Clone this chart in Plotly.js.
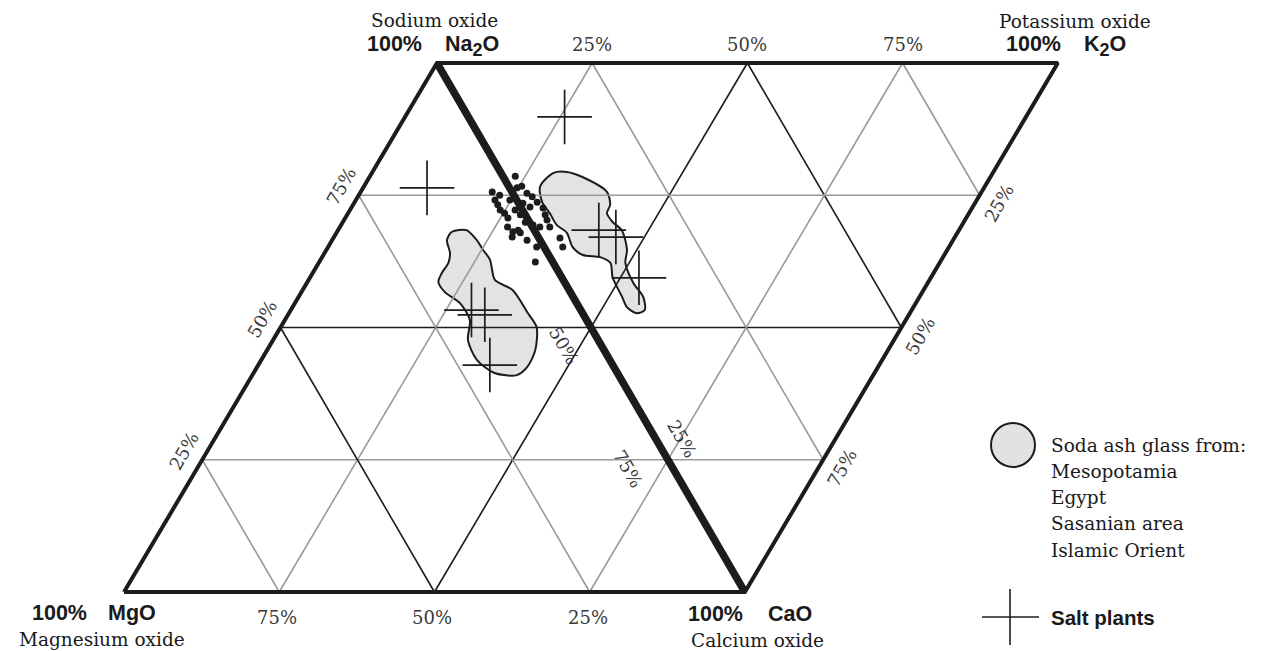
<!DOCTYPE html>
<html>
<head>
<meta charset="utf-8">
<script src="https://cdn.plot.ly/plotly-3.0.1.min.js"></script>
<style>html,body{margin:0;padding:0;background:#fff;}#chart{width:1271px;height:651px;}</style>
</head>
<body>
<div id="chart"></div>
<script>
// ---- Data (diagram coordinates: pos = % along base/top edge, na = % height toward Na2O/K2O edge) ----
const TICKS = [25, 50, 75];

// Salt plants (crosses)
const saltPos = [25.7, 10.3, 42.0, 45.4, 53.0, 29.1, 31.7, 37.3];
const saltNa  = [89.8, 76.4, 68.4, 67.1, 59.4, 53.3, 52.4, 42.9];

// Black dots (glass analyses near the Na2O-CaO join)
const dotPos = [23.4, 21.2, 25.4, 22.4, 23.3, 26.9, 28.1, 29.4, 25.2, 26.2, 24.2, 26.6, 27.9, 30.9, 31.9, 32.7,
                27.0, 28.3, 28.7, 29.6, 31.4, 29.0, 33.6, 36.5, 37.8, 34.8, 30.9, 32.2, 27.2, 28.7, 33.8, 22.7, 24.8, 29.4, 24.8];
const dotNa  = [78.6, 75.6, 76.7, 74.1, 73.2, 75.4, 74.7, 73.7, 71.6, 70.7, 72.2, 72.2, 71.3, 72.6, 71.3, 70.3,
                69.0, 68.1, 67.1, 67.9, 66.5, 68.4, 65.2, 66.9, 65.2, 62.4, 69.4, 69.0, 73.5, 72.8, 69.0, 75.0, 74.1, 69.9, 76.4];

// Soda ash glass fields (outlines)
const fieldRightPos = [28.4, 29.2, 31.3, 34.4, 39.7, 41.4, 41.7, 43.5, 45.7, 48.4, 49.4, 52.6, 55.5, 57.0, 56.0, 53.8, 52.1, 48.7, 47.0, 44.8, 41.8, 39.4, 37.1, 34.7, 32.5, 30.2];
const fieldRightNa  = [76.6, 79.2, 79.4, 78.4, 75.6, 73.2, 71.6, 69.9, 68.4, 64.7, 62.2, 58.4, 55.8, 53.3, 52.7, 53.9, 55.8, 59.5, 62.2, 63.3, 63.7, 65.2, 67.9, 69.4, 71.6, 73.7];
const fieldLeftPos  = [18.5, 20.7, 23.3, 25.2, 27.3, 30.0, 33.8, 38.5, 41.2, 43.2, 43.5, 42.6, 38.8, 34.7, 31.4, 29.8, 26.6, 23.1, 21.1, 20.8, 20.9, 20.2, 18.5];
const fieldLeftNa   = [68.1, 68.4, 66.5, 64.7, 62.8, 59.0, 57.1, 52.7, 50.1, 45.7, 42.5, 41.0, 41.4, 43.9, 47.6, 51.4, 54.6, 56.7, 58.6, 60.3, 62.2, 64.1, 66.5];

const legendFieldLines = ["Soda ash glass from:", "Mesopotamia", "Egypt", "Sasanian area", "Islamic Orient"];
const legendSaltLabel = "Salt plants";

// ---- Geometry helpers ----
const SKEW = 0.504;
const X = (p, n) => p + SKEW * n;
const GRAY = '#9a9a9a', DARK = '#1c1c1c';
const SERIF = 'DejaVu Serif, serif', SANS = 'Liberation Sans, Arial, sans-serif';

function seg(pts) { return { x: pts.map(q => X(q[0], q[1])), y: pts.map(q => q[1]) }; }
function lineTrace(pts, color, width) {
  const s = seg(pts);
  return { type: 'scatter', mode: 'lines', x: s.x, y: s.y, hoverinfo: 'skip', showlegend: false,
           line: { color: color, width: width } };
}
function closed(a) { return a.concat([a[0]]); }

const traces = [];
// Fields (under the grid)
[[fieldLeftPos, fieldLeftNa], [fieldRightPos, fieldRightNa]].forEach(f => {
  const P = closed(f[0]), N = closed(f[1]);
  traces.push({ type: 'scatter', mode: 'lines', x: P.map((p, i) => X(p, N[i])), y: N, fill: 'toself',
    fillcolor: 'rgba(222,222,222,0.85)', line: { color: DARK, width: 2, shape: 'spline', smoothing: 0.8 },
    hoverinfo: 'skip', showlegend: false });
});

// Grid lines
TICKS.forEach(t => {
  const c = t === 50 ? DARK : GRAY, w = 1.6;
  traces.push(lineTrace([[0, t], [100, t]], c, w));            // horizontal
  traces.push(lineTrace([[t, 0], [t, 100]], c, w));            // parallel to side edges
  traces.push(lineTrace([[0, t], [t, 0]], c, w));              // parallel to diagonal, left triangle
  traces.push(lineTrace([[t, 100], [100, t]], c, w));          // parallel to diagonal, right triangle
});

// Outline and diagonal
traces.push(lineTrace([[0, 0], [0, 100], [100, 100], [100, 0], [0, 0]], DARK, 4));
traces.push(lineTrace([[0, 100], [100, 0]], DARK, 7.5));

// Dots
traces.push({ type: 'scatter', mode: 'markers', x: dotPos.map((p, i) => X(p, dotNa[i])), y: dotNa,
  marker: { symbol: 'circle', size: 7, color: DARK }, hoverinfo: 'skip', showlegend: false });
// Salt plants
traces.push({ type: 'scatter', mode: 'markers', x: saltPos.map((p, i) => X(p, saltNa[i])), y: saltNa,
  marker: { symbol: 'cross-thin-open', size: 39, color: DARK, opacity: 1, line: { color: DARK, width: 1.7 } },
  hoverinfo: 'skip', showlegend: false });

// ---- Annotations ----
const ann = [];
function A(p, n, text, xs, ys, o) {
  ann.push(Object.assign({ x: X(p, n), y: n, xref: 'x', yref: 'y', text: text, showarrow: false,
    xshift: xs, yshift: ys, xanchor: 'center', yanchor: 'middle', borderpad: 0,
    font: { family: SERIF, size: 18, color: '#3a3a3a' } }, o || {}));
}
TICKS.forEach(t => {
  A(t, 100, t + '%', 0, 19);                                       // top edge
  A(t, 0, (100 - t) + '%', -2, -25);                               // base
  A(0, t, t + '%', -18, 9, { textangle: -60 });                     // left edge
  A(100, t, (100 - t) + '%', 19, -8, { textangle: -60 });           // right edge
});
// diagonal labels
A(50, 50, '50%', -27, -18, { textangle: 60 });
A(75, 25, '25%', 14, 21, { textangle: 60 });
A(75, 25, '75%', -40, -9, { textangle: 60 });

const bold = { family: SANS, size: 21.5, color: '#1a1a1a', weight: 'bold' };
const serifName = { family: SERIF, size: 18.5, color: '#1a1a1a' };
const sub2 = '<sub><span style="font-size:18px">2</span></sub>';
// Na2O
A(0, 100, 'Sodium oxide', -2, 43, { font: serifName });
A(0, 100, '<b>100%</b>', -42, 19, { font: bold });
A(0, 100, '<b>Na' + sub2 + 'O</b>', 7, 17, { font: bold, xanchor: 'left' });
// K2O
A(100, 100, 'Potassium oxide', 17, 42, { font: serifName });
A(100, 100, '<b>100%</b>', -24, 19, { font: bold });
A(100, 100, '<b>K' + sub2 + 'O</b>', 25, 17, { font: bold, xanchor: 'left' });
// MgO
A(0, 0, '<b>100%</b>', -65, -21, { font: bold });
A(0, 0, '<b>MgO</b>', -17, -21, { font: bold, xanchor: 'left' });
A(0, 0, 'Magnesium oxide', -22, -47, { font: serifName });
// CaO
A(100, 0, '<b>100%</b>', -29, -22, { font: bold });
A(100, 0, '<b>CaO</b>', 22, -22, { font: bold, xanchor: 'left' });
A(100, 0, 'Calcium oxide', 13, -48, { font: serifName });

// Legend text
const W = 1271, H = 651;
const legY = [445, 471, 497, 523, 550];
legendFieldLines.forEach((s, i) => ann.push({ xref: 'paper', yref: 'paper', x: 1050 / W, y: 1 - legY[i] / H,
  xanchor: 'left', yanchor: 'middle', showarrow: false, borderpad: 0, text: s,
  font: { family: SERIF, size: 18.5, color: '#1a1a1a' } }));
ann.push({ xref: 'paper', yref: 'paper', x: 1050 / W, y: 1 - 617 / H, xanchor: 'left', yanchor: 'middle',
  showarrow: false, borderpad: 0, text: '<b>' + legendSaltLabel + '</b>', font: { family: SANS, size: 20.5, color: '#1a1a1a' } });

const shapes = [
  { type: 'circle', xref: 'paper', yref: 'paper', x0: 991 / W, x1: 1035 / W, y0: 1 - 467 / H, y1: 1 - 423 / H,
    fillcolor: '#e2e2e2', line: { color: DARK, width: 2 } },
  { type: 'line', xref: 'paper', yref: 'paper', x0: 982 / W, x1: 1039 / W, y0: 1 - 617 / H, y1: 1 - 617 / H, line: { color: DARK, width: 1.6 } },
  { type: 'line', xref: 'paper', yref: 'paper', x0: 1010 / W, x1: 1010 / W, y0: 1 - 645 / H, y1: 1 - 589 / H, line: { color: DARK, width: 1.6 } }
];

const layout = {
  width: W, height: H, margin: { l: 0, r: 0, t: 0, b: 0 },
  paper_bgcolor: '#fff', plot_bgcolor: '#fff', showlegend: false,
  xaxis: { visible: false, range: [-19.97, 184.73], fixedrange: true },
  yaxis: { visible: false, range: [-11.15, 111.91], fixedrange: true },
  annotations: ann, shapes: shapes
};
Plotly.newPlot('chart', traces, layout, { staticPlot: true });
</script>
</body>
</html>
